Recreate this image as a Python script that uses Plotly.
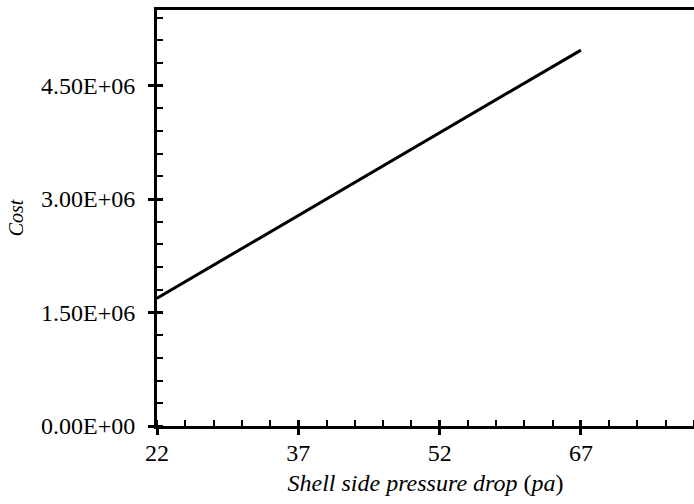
import plotly.graph_objects as go

pressure_drop = [22, 37, 52, 67]
cost = [1.69e6, 2.78e6, 3.88e6, 4.97e6]

x_ticks = [22, 37, 52, 67]
x_tick_labels = ["22", "37", "52", "67"]
y_ticks = [0, 1.5e6, 3.0e6, 4.5e6]
y_tick_labels = ["0.00E+00", "1.50E+06", "3.00E+06", "4.50E+06"]

FONT = "Liberation Serif, Times New Roman, serif"
XR = [22, 79]
YR = [0, 5.5e6]

fig = go.Figure()
fig.add_trace(go.Scatter(x=pressure_drop, y=cost, mode="lines",
                         line=dict(color="black", width=3), showlegend=False))
fig.add_trace(go.Scatter(x=[XR[0]], y=[YR[0]], xaxis="x2", yaxis="y2",
                         mode="markers", marker=dict(opacity=0), showlegend=False,
                         hoverinfo="skip"))

fig.update_layout(
    width=694, height=504,
    margin=dict(l=157, r=0, t=10, b=78),
    paper_bgcolor="white", plot_bgcolor="white",
    font=dict(family=FONT, size=24, color="black"),
    xaxis=dict(range=XR, tickmode="array", tickvals=x_ticks, ticktext=x_tick_labels,
               showgrid=False, zeroline=False, showline=True, linecolor="black",
               linewidth=3, mirror=True, ticks="outside", ticklen=6, tickwidth=3,
               tickcolor="black", ticklabelstandoff=-3,
               minor=dict(dtick=3, tick0=22, ticks="inside", ticklen=6, tickwidth=2,
                          tickcolor="black", showgrid=False),
               title=dict(text="<i>Shell side pressure drop</i> (<i>pa</i>)",
                          font=dict(family=FONT, size=24), standoff=10)),
    yaxis=dict(range=YR, tickmode="array", tickvals=y_ticks, ticktext=y_tick_labels,
               showgrid=False, zeroline=False, showline=True, linecolor="black",
               linewidth=3, ticks="outside", ticklen=6, tickwidth=3,
               tickcolor="black", ticklabelstandoff=8,
               minor=dict(dtick=3e5, tick0=0, ticks="inside", ticklen=6, tickwidth=2,
                          tickcolor="black", showgrid=False),
               title=dict(text="<i>Cost</i>", font=dict(family=FONT, size=20), standoff=12)),
    xaxis2=dict(range=XR, overlaying="x", anchor="y", side="bottom",
                tickmode="array", tickvals=x_ticks,
                showticklabels=False, showgrid=False, zeroline=False, showline=False,
                ticks="inside", ticklen=6, tickwidth=3, tickcolor="black"),
    yaxis2=dict(range=YR, overlaying="y", anchor="x", side="left",
                tickmode="array", tickvals=y_ticks,
                showticklabels=False, showgrid=False, zeroline=False, showline=False,
                ticks="inside", ticklen=6, tickwidth=3, tickcolor="black"),
)

fig.write_html("out.html")
